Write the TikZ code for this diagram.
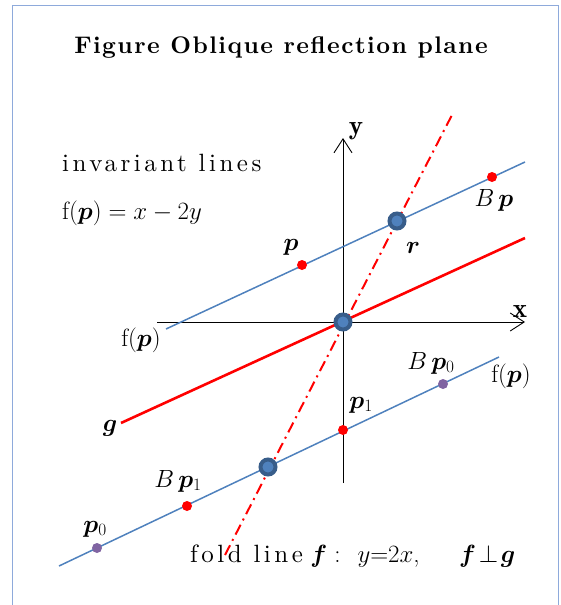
\documentclass[tikz,border=0pt]{standalone}
\usepackage{fontspec}
\usepackage{bm}
\usetikzlibrary{arrows.meta}
\newfontfamily\lstitle{lmroman10-bold.otf}[LetterSpace=6]
\newfontfamily\lsinv{lmroman10-regular.otf}[LetterSpace=14]
\newfontfamily\lsfold{lmroman10-regular.otf}[LetterSpace=14]
\definecolor{blueline}{HTML}{4F81BD}
\definecolor{ringblue}{HTML}{385D8A}
\definecolor{dotpurple}{HTML}{8064A2}
\definecolor{framecol}{HTML}{8EAADB}
\definecolor{redline}{HTML}{FF0000}
\begin{document}
\begin{tikzpicture}[x=1pt,y=-1pt,
  frameline/.style={draw=framecol,line width=1pt},
  axis/.style={draw=black,line width=0.9pt},
  axisarrow/.style={-{Straight Barb[length=14pt,width=18pt,line width=0.9pt]}},
  invline/.style={draw=blueline,line width=1.5pt},
  gline/.style={draw=redline,line width=2.6pt},
  fline/.style={draw=redline,line width=2pt,dash pattern=on 11pt off 5pt on 2pt off 5pt},
  reddot/.style={circle,fill=redline,inner sep=0pt,minimum size=10pt},
  purpledot/.style={circle,fill=dotpurple,inner sep=0pt,minimum size=10pt},
  bigdot/.style={circle,fill=blueline,draw=ringblue,line width=4pt,inner sep=0pt,minimum size=15pt},
  lbl/.style={inner sep=0pt,font=\fontsize{25}{29}\selectfont},
  plbl/.style={inner sep=0pt,font=\fontsize{27}{31}\selectfont}
]
\useasboundingbox (0,0) rectangle (560,605);
% frame
\coordinate (f1) at (12,605);
\coordinate (f2) at (12,5);
\coordinate (f3) at (558,5);
\coordinate (f4) at (558,605);
\draw[frameline] (f1) -- (f2) -- (f3) -- (f4);
% title
\node[inner sep=0pt,font=\fontsize{24}{28}\lstitle] (title) at (281,48) {Figure Oblique reflection plane};
% coordinates
\coordinate (O) at (343,322);
\coordinate (xs) at (157,322);
\coordinate (xe) at (525,322);
\coordinate (ys) at (343,483);
\coordinate (ye) at (343,138);
\coordinate (u1) at (166,329);
\coordinate (u2) at (525,162);
\coordinate (l1) at (59,566);
\coordinate (l2) at (499,357);
\coordinate (g1) at (121,423);
\coordinate (g2) at (525,238);
\coordinate (fa) at (225,555);
\coordinate (fb) at (453,113);
% axes
\draw[axis,axisarrow] (xs) -- (xe);
\draw[axis,axisarrow] (ys) -- (ye);
% lines
\draw[invline] (u1) -- (u2);
\draw[invline] (l1) -- (l2);
\draw[gline] (g1) -- (g2);
\draw[fline] (fa) -- (fb);
% dots
\node[reddot] (p) at (302,265) {};
\node[reddot] (Bp) at (492,177) {};
\node[reddot] (p1) at (343,430) {};
\node[reddot] (Bp1) at (187,506) {};
\node[purpledot] (p0) at (97,548) {};
\node[purpledot] (Bp0) at (443,384) {};
\node[bigdot] (r) at (397,221) {};
\node[bigdot] (o) at (O) {};
\node[bigdot] (c2) at (268,467) {};
% axis labels
\node[plbl] (ylbl) at (356,131) {$\bm{\mathrm{y}}$};
\node[plbl] (xlbl) at (520,312) {$\bm{\mathrm{x}}$};
% texts
\node[inner sep=0pt,anchor=west,font=\fontsize{25}{29}\lsinv] (inv) at (62,163) {invariant lines};
\node[lbl,anchor=west] (feq) at (62,213) {$\mathrm{f}(\bm{p}) = x - 2y$};
\node[lbl] (fp1) at (141,340) {$\mathrm{f}(\bm{p})$};
\node[lbl] (fp2) at (511,376) {$\mathrm{f}(\bm{p})$};
\node[plbl] (plbl) at (291,247) {$\bm{p}$};
\node[plbl] (rlbl) at (413,248) {$\bm{r}$};
\node[plbl] (Bplbl) at (494,200) {$B\,\bm{p}$};
\node[plbl] (Bp0lbl) at (431,363) {$B\,\bm{p}_{0}$};
\node[plbl] (p1lbl) at (361,405) {$\bm{p}_{1}$};
\node[plbl] (glbl) at (110,428) {$\bm{g}$};
\node[plbl] (Bp1lbl) at (178,481) {$B\,\bm{p}_{1}$};
\node[plbl] (p0lbl) at (95,529) {$\bm{p}_{0}$};
\node[inner sep=0pt,anchor=west,font=\fontsize{25}{29}\selectfont] (fold) at (190,556) {{\lsfold fold line} $\bm{f}$\;:\; $y{=}2x$,\quad\; $\bm{f}\!\perp\!\bm{g}$};
\end{tikzpicture}
\end{document}
